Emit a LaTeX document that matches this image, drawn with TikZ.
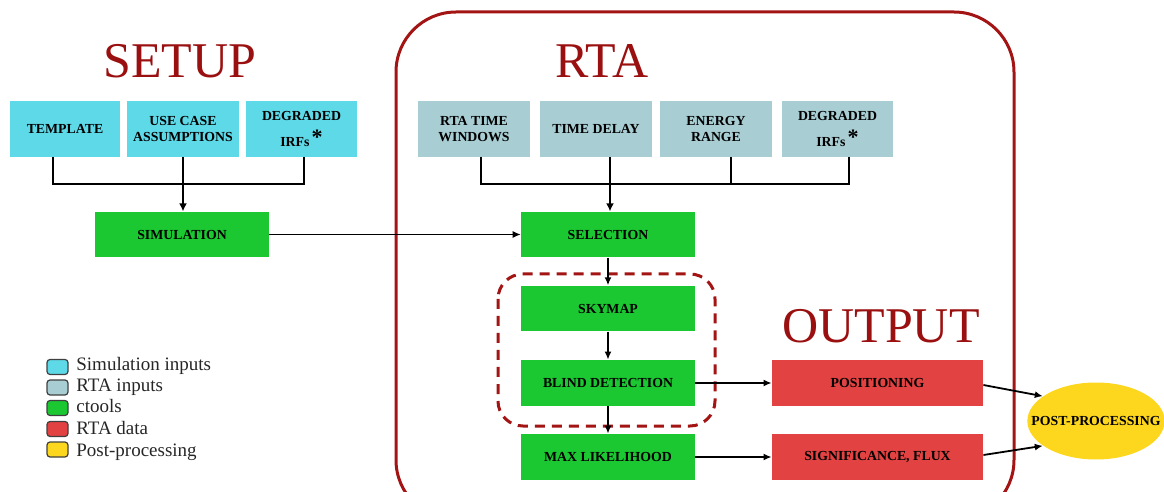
\documentclass[tikz,border=0pt]{standalone}
\usepackage{fontspec}
\setmainfont{Liberation Serif}
\usetikzlibrary{arrows.meta,shapes.geometric}
\definecolor{simcyan}{HTML}{5ED9E8}
\definecolor{rtablue}{HTML}{A8CDD3}
\definecolor{ctgreen}{HTML}{1BC832}
\definecolor{datared}{HTML}{E24242}
\definecolor{postyellow}{HTML}{FDD61E}
\definecolor{darkred}{HTML}{A31414}
\definecolor{titlered}{HTML}{9A1010}
\newcommand{\irfstar}{\,\raisebox{1pt}{\fontsize{11}{11}\selectfont*}}
\begin{document}
\begin{tikzpicture}[x=0.5pt,y=-0.5pt,
  box/.style={rectangle, inner sep=0pt, align=center, text=black,
    font=\bfseries\fontsize{6.9}{8.2}\selectfont},
  simbox/.style={box, fill=simcyan, minimum height=28pt},
  rtabox/.style={box, fill=rtablue, minimum height=28pt, minimum width=56pt},
  toolbox/.style={box, fill=ctgreen, minimum height=22.75pt, minimum width=87pt},
  databox/.style={box, fill=datared, minimum height=23pt, minimum width=105.5pt},
  bus/.style={draw=black, line width=1pt},
  feed/.style={draw=black, line width=1.3pt, -{Latex[length=4pt,width=4pt]}},
  flow/.style={draw=black, line width=0.9pt, -{Latex[length=4pt,width=3.5pt]}},
  thinflow/.style={draw=black, line width=0.5pt, -{Latex[length=4pt,width=3.5pt]}},
  title/.style={text=titlered, font=\fontsize{25}{25}\selectfont, anchor=base},
  legsq/.style={draw=black!75, line width=0.6pt, rounded corners=1.5pt, minimum width=10.5pt, minimum height=7.5pt, inner sep=0pt},
  legtxt/.style={anchor=base west, font=\fontsize{9.5}{9.5}\selectfont, text=black!85, inner sep=0pt}
]
\useasboundingbox (0,0) rectangle (1164,492);

% big RTA frame
\draw[darkred, line width=1.5pt, rounded corners=30pt] (396,12) rectangle (1014,520);

% titles
\node[title] (tsetup) at (180,78) {SETUP};
\node[title] (trta) at (602,78) {RTA};
\node[title] (toutput) at (881,343) {OUTPUT};

% setup inputs
\node[simbox, minimum width=55pt] (tmpl) at (65,129) {TEMPLATE};
\node[simbox, minimum width=56pt] (ucase) at (183,129) {USE CASE\\ASSUMPTIONS};
\node[simbox, minimum width=55.5pt] (degr) at (301.5,129) {DEGRADED\\[3.5pt]IRFs\irfstar};

% simulation
\node[toolbox] (sim) at (182,234.5) {SIMULATION};

% rta inputs
\node[rtabox] (tw) at (474,129) {RTA TIME\\WINDOWS};
\node[rtabox] (td) at (596,129) {TIME DELAY};
\node[rtabox] (er) at (716,129) {ENERGY\\RANGE};
\node[rtabox, minimum width=55.5pt] (dirf) at (837.5,129) {DEGRADED\\[3.5pt]IRFs\irfstar};

% ctools chain
\node[toolbox] (sel) at (608,234.5) {SELECTION};
\node[toolbox] (sky) at (608,308.5) {SKYMAP};
\node[toolbox, minimum height=23pt] (blind) at (608,383) {BLIND DETECTION};
\node[toolbox, minimum height=23pt] (maxl) at (608,457) {MAX LIKELIHOOD};

% outputs
\node[databox] (pos) at (877.5,383) {POSITIONING};
\node[databox] (sig) at (877.5,457) {SIGNIFICANCE, FLUX};

% post-processing
\node[ellipse, fill=postyellow, minimum width=68pt, minimum height=38.5pt,
      inner xsep=-8pt, inner ysep=0pt,
      font=\bfseries\fontsize{6.9}{8.2}\selectfont] (post) at (1096,421) {POST-PROCESSING};

% dashed group
\draw[darkred, line width=1.5pt, dash pattern=on 5pt off 3.5pt, rounded corners=12.5pt] (498,274) rectangle (715,426);

% setup bus
\coordinate (bus1) at (0,184);
\coordinate (s1) at ([xshift=-6pt]tmpl.south);
\coordinate (s3) at ([xshift=1.25pt]degr.south);
\draw[bus] (s1) -- (s1 |- bus1) -- (s3 |- bus1) -- (s3);
\draw[feed] (ucase.south) -- (ucase.south |- sim.north);

% rta bus
\coordinate (r1) at ([xshift=3.5pt]tw.south);
\coordinate (r2) at ([xshift=1pt]sel.north);
\coordinate (r3) at ([xshift=7.5pt]er.south);
\coordinate (r4) at ([xshift=5.75pt]dirf.south);
\draw[bus] (r1) -- (r1 |- bus1) -- (r4 |- bus1) -- (r4);
\draw[bus] (r3) -- (r3 |- bus1);
\draw[feed] (r2 |- td.south) -- (r2);

% flows
\draw[thinflow] (sim.east) -- (sel.west);
\draw[flow] (sel.south) -- (sky.north);
\draw[flow] (sky.south) -- (blind.north);
\draw[flow] (blind.south) -- (maxl.north);
\draw[flow] (blind.east) -- (pos.west);
\draw[flow] (maxl.east) -- (sig.west);
\draw[flow] ([yshift=-1pt]pos.east) -- (post.155);
\draw[flow] ([yshift=1pt]sig.east) -- (post.205);

% legend
\node[legsq, fill=simcyan] (l1) at (57.5,367) {};
\node[legsq, fill=rtablue] (l2) at (57.5,387.5) {};
\node[legsq, fill=ctgreen] (l3) at (57.5,408) {};
\node[legsq, fill=datared] (l4) at (57.5,429) {};
\node[legsq, fill=postyellow] (l5) at (57.5,449.5) {};
\node[legtxt] (t1) at (76,371) {Simulation inputs};
\node[legtxt] (t2) at (76,392) {RTA inputs};
\node[legtxt] (t3) at (76,413) {ctools};
\node[legtxt] (t4) at (76,434) {RTA data};
\node[legtxt] (t5) at (76,456) {Post-processing};
\end{tikzpicture}
\end{document}
